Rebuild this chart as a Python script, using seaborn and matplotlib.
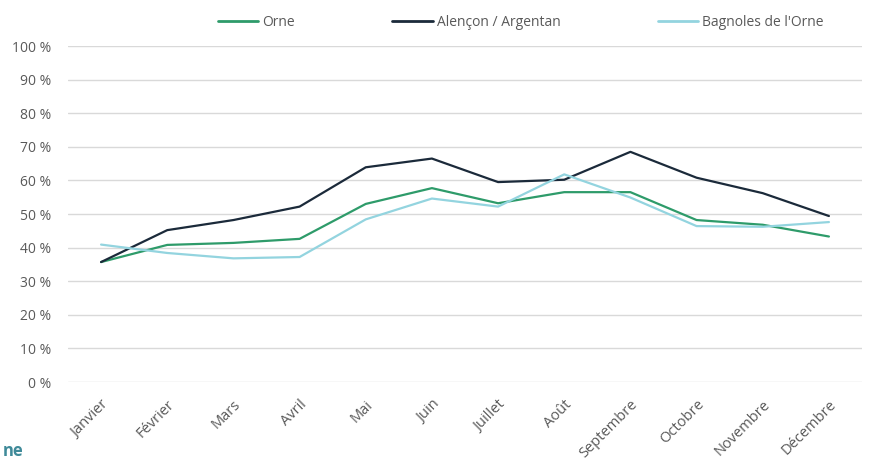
import pandas as pd
import matplotlib.pyplot as plt
import seaborn as sns
from matplotlib.ticker import FuncFormatter

# Data (percent)
mois = ['Janvier', 'Février', 'Mars', 'Avril', 'Mai', 'Juin', 'Juillet',
        'Août', 'Septembre', 'Octobre', 'Novembre', 'Décembre']
orne = [35.7, 40.8, 41.4, 42.6, 53.0, 57.7, 53.2, 56.5, 56.5, 48.2, 46.8, 43.3]
alencon = [35.7, 45.2, 48.2, 52.2, 63.9, 66.5, 59.5, 60.2, 68.5, 60.8, 56.2, 49.4]
bagnoles = [40.9, 38.4, 36.8, 37.2, 48.4, 54.6, 52.2, 61.8, 54.9, 46.4, 46.2, 47.6]
series_names = ['Orne', 'Alençon / Argentan', "Bagnoles de l'Orne"]
colors = ['#2e9b6a', '#1b2a3a', '#93d4df']

df = pd.DataFrame({
    'mois': mois * 3,
    'x': list(range(len(mois))) * 3,
    'taux': orne + alencon + bagnoles,
    'serie': [series_names[0]] * 12 + [series_names[1]] * 12 + [series_names[2]] * 12,
})

sns.set_theme(style='white')
plt.rcParams['font.family'] = ['Open Sans', 'DejaVu Sans']
text_color = '#595959'

fig = plt.figure(figsize=(8.72, 4.61), dpi=100)
ax = fig.add_axes([68 / 872, 1 - 382 / 461, (862 - 68) / 872, (382 - 46) / 461])

sns.lineplot(data=df, x='x', y='taux', hue='serie', hue_order=series_names,
             palette=colors, linewidth=1.6, ax=ax, legend=False)

ax.set_xlim(-0.5, len(mois) - 0.5)
ax.set_ylim(0, 100)
ax.set_yticks(range(0, 101, 10))
ax.yaxis.set_major_formatter(FuncFormatter(lambda v, p: f'{int(v)} %'))
ax.set_xticks(range(len(mois)))
ax.set_xticklabels(mois, rotation=45, ha='right', va='top', rotation_mode='anchor')
ax.tick_params(axis='y', length=0, labelsize=10, colors=text_color, pad=12)
ax.tick_params(axis='x', length=0, labelsize=10.5, colors=text_color, pad=11)
ax.set_xlabel('')
ax.set_ylabel('')
ax.grid(axis='y', color='#d9d9d9', linewidth=1)
ax.set_axisbelow(True)
for s in ax.spines.values():
    s.set_visible(False)

# Legend across the top
handles = [plt.Line2D([], [], color=c, linewidth=2) for c in colors]
leg = fig.legend(handles, series_names, loc='center left',
                 bbox_to_anchor=(218 / 872, 1 - 22 / 461), ncol=3, frameon=False,
                 handlelength=2.9, handletextpad=0.3, columnspacing=7.0,
                 borderpad=0, borderaxespad=0, fontsize=10)
for t in leg.get_texts():
    t.set_color(text_color)

# Title fragment at bottom left
fig.text(3 / 872, 1 - 442 / 461, 'ne', ha='left', va='top', fontsize=12,
         fontweight='bold', color='#3f8a99')

fig.savefig('out.png', dpi=100)
